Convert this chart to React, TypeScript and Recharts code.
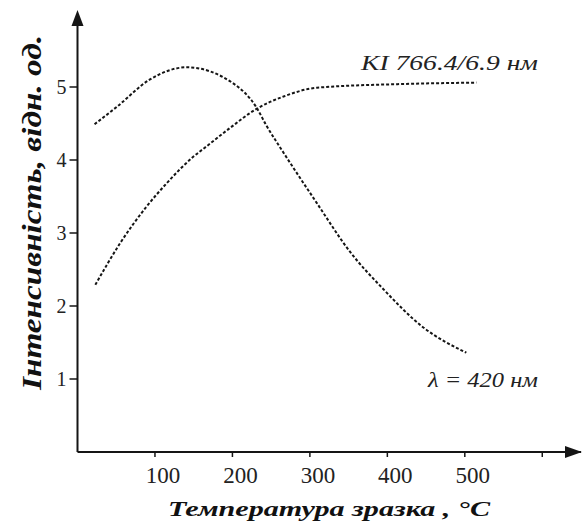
import React from "react"
import { LineChart, Line, XAxis, YAxis, ReferenceDot } from "recharts"

// λ = 420 нм
const lambdaTemp = [22, 51, 93, 141, 201, 231, 244, 266, 309, 352, 394, 446, 502]
const lambdaInt = [4.49, 4.73, 5.1, 5.27, 5.05, 4.72, 4.47, 4.1, 3.41, 2.74, 2.24, 1.71, 1.36]

// KI 766.4/6.9 нм
const kiTemp = [23, 55, 89, 115, 149, 167, 197, 231, 266, 309, 416, 515]
const kiInt = [2.29, 2.86, 3.36, 3.68, 4.04, 4.19, 4.44, 4.7, 4.87, 4.99, 5.04, 5.06]

const xTicks = [100, 200, 300, 400, 500, 600]
const yTicks = [1, 2, 3, 4, 5]

const lambdaData = lambdaTemp.map((t, i) => ({ t, v: lambdaInt[i] }))
const kiData = kiTemp.map((t, i) => ({ t, v: kiInt[i] }))

const W = 583
const H = 529
const INK = "#151515"
const SERIF = "'Liberation Serif', 'Times New Roman', serif"

const UpArrow = ({ cx, cy }: any) => (
  <polygon points={`${cx},${cy - 4} ${cx - 6},${cy + 12} ${cx + 6},${cy + 12}`} fill={INK} />
)

const RightArrow = ({ cx, cy }: any) => (
  <polygon points={`${cx + 1},${cy} ${cx - 16},${cy - 6} ${cx - 16},${cy + 6}`} fill={INK} />
)

export default function App() {
  return (
    <div style={{ position: "absolute", left: 0, top: 0, width: W, height: H, background: "#fff" }}>
      <LineChart
        width={W}
        height={H}
        margin={{ top: 14, right: 2, bottom: 47, left: 0 }}
      >
        <XAxis
          dataKey="t"
          type="number"
          domain={[0, 650]}
          ticks={xTicks}
          tickFormatter={(v) => (v === 600 ? "" : String(v))}
          allowDuplicatedCategory={false}
          height={30}
          axisLine={{ stroke: INK, strokeWidth: 2 }}
          tickLine={{ stroke: INK, strokeWidth: 1.5 }}
          tickSize={5}
          tickMargin={10}
          tick={{ fill: "#222", fontSize: 23, fontFamily: SERIF, dx: 8 }}
        />
        <YAxis
          type="number"
          domain={[0, 6]}
          ticks={yTicks}
          width={77.5}
          axisLine={{ stroke: INK, strokeWidth: 2 }}
          tickLine={{ stroke: INK, strokeWidth: 1.5 }}
          tickSize={8}
          tickMargin={3}
          tick={{ fill: "#222", fontSize: 20, fontFamily: SERIF }}
        />
        <Line
          data={lambdaData}
          dataKey="v"
          type="monotone"
          stroke={INK}
          strokeWidth={2}
          strokeDasharray="3 2"
          dot={false}
          isAnimationActive={false}
        />
        <Line
          data={kiData}
          dataKey="v"
          type="monotone"
          stroke={INK}
          strokeWidth={2}
          strokeDasharray="3 2"
          dot={false}
          isAnimationActive={false}
        />
        <ReferenceDot x={0} y={6} r={0} shape={<UpArrow />} />
        <ReferenceDot x={650} y={0} r={0} shape={<RightArrow />} />
      </LineChart>

      {/* titles and curve labels */}
      <svg
        width={W}
        height={H}
        style={{ position: "absolute", left: 0, top: 0, pointerEvents: "none" }}
      >
        <text
          x={361}
          y={70}
          fontFamily={SERIF}
          fontStyle="italic"
          fontSize={22}
          fill="#222"
          textLength={177}
          lengthAdjust="spacingAndGlyphs"
        >
          KI 766.4/6.9 нм
        </text>
        <text
          x={428}
          y={387}
          fontFamily={SERIF}
          fontStyle="italic"
          fontSize={22}
          fill="#222"
          textLength={110}
          lengthAdjust="spacingAndGlyphs"
        >
          λ = 420 нм
        </text>
        <text
          x={168}
          y={516}
          fontFamily={SERIF}
          fontStyle="italic"
          fontWeight="bold"
          fontSize={22}
          fill="#111"
          textLength={322}
          lengthAdjust="spacingAndGlyphs"
        >
          Температура зразка , °C
        </text>
        <text
          transform="translate(41, 390) rotate(-90)"
          x={0}
          y={0}
          fontFamily={SERIF}
          fontStyle="italic"
          fontWeight="bold"
          fontSize={28}
          fill="#111"
          textLength={355}
          lengthAdjust="spacingAndGlyphs"
        >
          Інтенсивність, відн. од.
        </text>
      </svg>
    </div>
  )
}
